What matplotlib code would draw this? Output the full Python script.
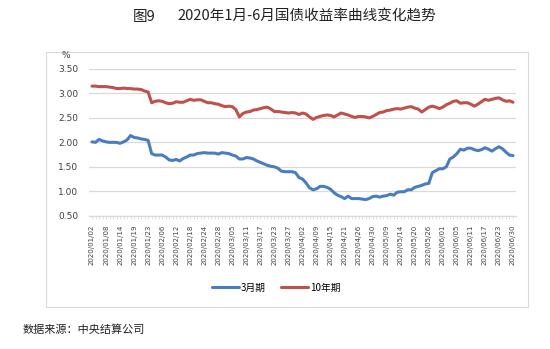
import matplotlib
matplotlib.use("Agg")
import matplotlib.pyplot as plt
import pandas as pd

plt.rcParams['font.family'] = ['Noto Sans CJK SC', 'DejaVu Sans']

# 2020 H1 interbank trading days: weekdays minus holidays, plus make-up working days
holidays = ["2020-01-24", "2020-01-27", "2020-01-28", "2020-01-29", "2020-01-30",
            "2020-01-31", "2020-04-06", "2020-05-01", "2020-05-04", "2020-05-05",
            "2020-06-25", "2020-06-26"]
workdays = ["2020-01-19", "2020-04-26", "2020-05-09", "2020-06-28"]
days = pd.bdate_range("2020-01-02", "2020-06-30")
days = days.difference(pd.to_datetime(holidays)).union(pd.to_datetime(workdays))
dates = [d.strftime("%Y/%m/%d") for d in days]

# yields, %
y3m = [2.01, 2.00, 2.06, 2.03, 2.01, 2.00, 2.00, 2.00, 1.98, 2.01,
       2.05, 2.14, 2.10, 2.09, 2.07, 2.06, 2.04, 1.77, 1.74, 1.74,
       1.74, 1.70, 1.64, 1.63, 1.65, 1.62, 1.67, 1.70, 1.74, 1.74,
       1.77, 1.78, 1.79, 1.78, 1.78, 1.78, 1.76, 1.79, 1.78, 1.77,
       1.74, 1.72, 1.66, 1.66, 1.69, 1.68, 1.66, 1.62, 1.59, 1.56,
       1.53, 1.51, 1.50, 1.47, 1.41, 1.40, 1.40, 1.40, 1.38, 1.28,
       1.25, 1.17, 1.07, 1.03, 1.05, 1.10, 1.10, 1.08, 1.04, 0.97,
       0.92, 0.89, 0.85, 0.90, 0.85, 0.85, 0.85, 0.84, 0.83, 0.85,
       0.89, 0.90, 0.88, 0.90, 0.91, 0.94, 0.92, 0.98, 0.99, 0.99,
       1.03, 1.03, 1.08, 1.10, 1.12, 1.15, 1.16, 1.38, 1.42, 1.46,
       1.46, 1.50, 1.66, 1.70, 1.77, 1.86, 1.84, 1.88, 1.88, 1.85,
       1.83, 1.85, 1.89, 1.86, 1.82, 1.87, 1.91, 1.87, 1.80, 1.74,
       1.73]
y10y = [3.15, 3.15, 3.14, 3.14, 3.14, 3.13, 3.12, 3.10, 3.10, 3.11,
        3.10, 3.10, 3.09, 3.09, 3.08, 3.05, 3.03, 2.81, 2.84, 2.85,
        2.84, 2.81, 2.79, 2.80, 2.83, 2.82, 2.82, 2.85, 2.88, 2.86,
        2.87, 2.87, 2.84, 2.81, 2.81, 2.79, 2.78, 2.75, 2.73, 2.74,
        2.73, 2.67, 2.52, 2.59, 2.62, 2.63, 2.66, 2.67, 2.69, 2.71,
        2.72, 2.68, 2.63, 2.63, 2.62, 2.61, 2.60, 2.61, 2.60, 2.57,
        2.60, 2.58, 2.52, 2.47, 2.51, 2.53, 2.55, 2.56, 2.55, 2.52,
        2.56, 2.60, 2.58, 2.56, 2.53, 2.51, 2.53, 2.53, 2.52, 2.50,
        2.53, 2.57, 2.61, 2.62, 2.65, 2.66, 2.68, 2.69, 2.68, 2.70,
        2.72, 2.73, 2.70, 2.68, 2.62, 2.67, 2.72, 2.74, 2.72, 2.69,
        2.72, 2.77, 2.80, 2.84, 2.85, 2.80, 2.81, 2.81, 2.78, 2.74,
        2.78, 2.83, 2.88, 2.86, 2.88, 2.90, 2.91, 2.87, 2.84, 2.85,
        2.82]
yticks = [0.5, 1.0, 1.5, 2.0, 2.5, 3.0, 3.5]

W, H = 550, 349
fig = plt.figure(figsize=(W / 100, H / 100), dpi=100)
ax = fig.add_axes([89.2 / W, 1 - 215.7 / H, (515.8 - 89.2) / W, (215.7 - 69) / H])

# outer chart frame
fig.patches.append(plt.Rectangle((45.5 / W, 1 - 306.8 / H), (528 - 45.5) / W, (306.8 - 51.5) / H,
                                 transform=fig.transFigure, fill=False,
                                 edgecolor='#d9d9d9', linewidth=0.8))

x = list(range(len(dates)))
l1, = ax.plot(x, y3m, color='#4a7dc0', linewidth=2.2, label='3月期', solid_capstyle='round')
l2, = ax.plot(x, y10y, color='#c0504d', linewidth=2.2, label='10年期', solid_capstyle='round')

ax.set_xlim(-0.8, len(dates) - 0.2)
ax.set_ylim(0.5, 3.5)
ax.set_yticks(yticks)
ax.set_yticklabels([f"{v:.2f}" for v in yticks], family='DejaVu Sans', fontsize=6.5, color='#404040')
ax.grid(axis='y', color='#d9d9d9', linewidth=0.9)
ax.set_axisbelow(True)
for s in ['top', 'right', 'left']:
    ax.spines[s].set_visible(False)
ax.spines['bottom'].set_color('#d9d9d9')
ax.spines['bottom'].set_linewidth(0.9)
ax.tick_params(axis='y', length=0, pad=8)

ax.set_xticks(x[::4])
ax.set_xticklabels(dates[::4], rotation=90, family='DejaVu Sans', fontsize=5, color='#404040')
ax.set_xticks(x, minor=True)
ax.tick_params(axis='x', which='both', length=2.5, color='#d9d9d9', width=0.6, pad=4)

fig.text(61 / W, 1 - 55 / H, '%', fontsize=6.5, family='DejaVu Sans', color='#404040', va='center')

fig.text(133 / W, 1 - 17 / H, '图9', fontsize=10.5, va='center', color='#222222')
fig.text(177 / W, 1 - 17 / H, '2020年1月-6月国债收益率曲线变化趋势', fontsize=10.5,
         va='center', color='#222222')

fig.legend(handles=[l1, l2], loc='center', bbox_to_anchor=(276 / W, 1 - 287.5 / H),
           ncol=2, frameon=False, fontsize=7, handlelength=2.8, handletextpad=0.15,
           columnspacing=1.6)

fig.text(23 / W, 1 - 329.5 / H, '数据来源：中央结算公司', fontsize=8, va='center', color='#222222')

fig.savefig('out.png', dpi=100)
